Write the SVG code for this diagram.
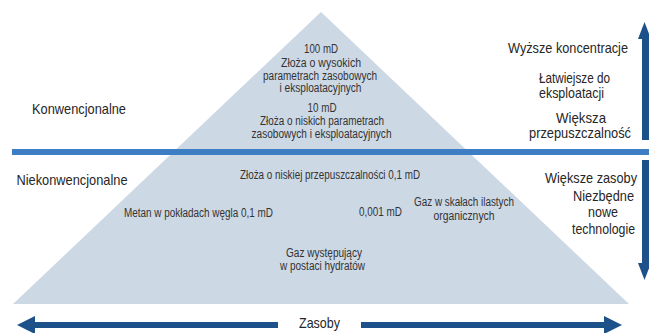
<svg xmlns="http://www.w3.org/2000/svg" width="649" height="333" viewBox="0 0 649 333">
<style>
text{font-family:"Liberation Sans",Arial,sans-serif;fill:#262626}
.s{font-size:12px;fill:#333}
.b{font-size:14.5px}
.m{text-anchor:middle}
.arrow{fill:#1c5189}
</style>
<rect width="649" height="333" fill="#fff"/>
<g id="pyramid">
<polygon points="13,304 321,12 629,304" fill="#cdd8e5"/>
</g>
<g id="connectors">
<rect id="divider" x="12" y="149" width="637" height="6" fill="#3d7dc4"/>
<g id="up-arrow" class="arrow">
<rect x="642" y="38" width="7" height="102"/>
<polygon points="638,39 644.5,22 651,39"/>
</g>
<g id="down-arrow" class="arrow">
<rect x="642" y="160" width="7" height="104"/>
<polygon points="638,263 644.5,280 651,263"/>
</g>
<g id="left-arrow" class="arrow">
<rect x="34" y="322" width="244" height="6"/>
<polygon points="35,316 17,325 35,334"/>
</g>
<g id="right-arrow" class="arrow">
<rect x="361" y="322" width="244" height="6"/>
<polygon points="604,316 622,325 604,334"/>
</g>
</g>
<g id="high-perm">
<text class="s m" x="321" y="53" textLength="34" lengthAdjust="spacingAndGlyphs">100 mD</text>
<text class="s m" x="321" y="67" textLength="80" lengthAdjust="spacingAndGlyphs">Złoża o wysokich</text>
<text class="s m" x="320" y="79.5" textLength="114" lengthAdjust="spacingAndGlyphs">parametrach zasobowych</text>
<text class="s m" x="320.5" y="92" textLength="82" lengthAdjust="spacingAndGlyphs">i eksploatacyjnych</text>
</g>
<g id="low-perm">
<text class="s m" x="322" y="111.5" textLength="29" lengthAdjust="spacingAndGlyphs">10 mD</text>
<text class="s m" x="322" y="125" textLength="124" lengthAdjust="spacingAndGlyphs">Złoża o niskich parametrach</text>
<text class="s m" x="321.5" y="137.5" textLength="140" lengthAdjust="spacingAndGlyphs">zasobowych i eksploatacyjnych</text>
</g>
<g id="konwencjonalne"><text class="b" x="32" y="114" textLength="94" lengthAdjust="spacingAndGlyphs">Konwencjonalne</text></g>
<g id="niekonwencjonalne"><text class="b" x="16.5" y="184.5" textLength="111" lengthAdjust="spacingAndGlyphs">Niekonwencjonalne</text></g>
<g id="tight"><text class="s m" x="330" y="179" textLength="180" lengthAdjust="spacingAndGlyphs">Złoża o niskiej przepuszczalności 0,1 mD</text></g>
<g id="cbm"><text class="s" x="124" y="216.5" textLength="149" lengthAdjust="spacingAndGlyphs">Metan w pokładach węgla 0,1 mD</text></g>
<g id="shale-perm"><text class="s" x="359" y="216" textLength="43" lengthAdjust="spacingAndGlyphs">0,001 mD</text></g>
<g id="shale">
<text class="s m" x="464" y="206" textLength="100" lengthAdjust="spacingAndGlyphs">Gaz w skałach ilastych</text>
<text class="s m" x="464" y="220" textLength="61" lengthAdjust="spacingAndGlyphs">organicznych</text>
</g>
<g id="hydrates">
<text class="s m" x="324" y="257" textLength="76" lengthAdjust="spacingAndGlyphs">Gaz występujący</text>
<text class="s m" x="322.5" y="270" textLength="85" lengthAdjust="spacingAndGlyphs">w postaci hydratów</text>
</g>
<g id="top-right">
<text class="b" x="508" y="52.5" textLength="120" lengthAdjust="spacingAndGlyphs">Wyższe koncentracje</text>
<text class="b" x="539" y="82.5" textLength="71" lengthAdjust="spacingAndGlyphs">Łatwiejsze do</text>
<text class="b" x="539" y="97.5" textLength="65" lengthAdjust="spacingAndGlyphs">eksploatacji</text>
<text class="b m" x="581" y="122.5" textLength="50" lengthAdjust="spacingAndGlyphs">Większa</text>
<text class="b m" x="580" y="137.5" textLength="102" lengthAdjust="spacingAndGlyphs">przepuszczalność</text>
</g>
<g id="bottom-right">
<text class="b" x="545" y="182.5" textLength="92" lengthAdjust="spacingAndGlyphs">Większe zasoby</text>
<text class="b m" x="603.5" y="200.5" textLength="61" lengthAdjust="spacingAndGlyphs">Niezbędne</text>
<text class="b m" x="603" y="217" textLength="30" lengthAdjust="spacingAndGlyphs">nowe</text>
<text class="b m" x="603.5" y="233.5" textLength="63" lengthAdjust="spacingAndGlyphs">technologie</text>
</g>
<g id="zasoby"><text class="b" x="299" y="328" textLength="41" lengthAdjust="spacingAndGlyphs">Zasoby</text></g>
</svg>
